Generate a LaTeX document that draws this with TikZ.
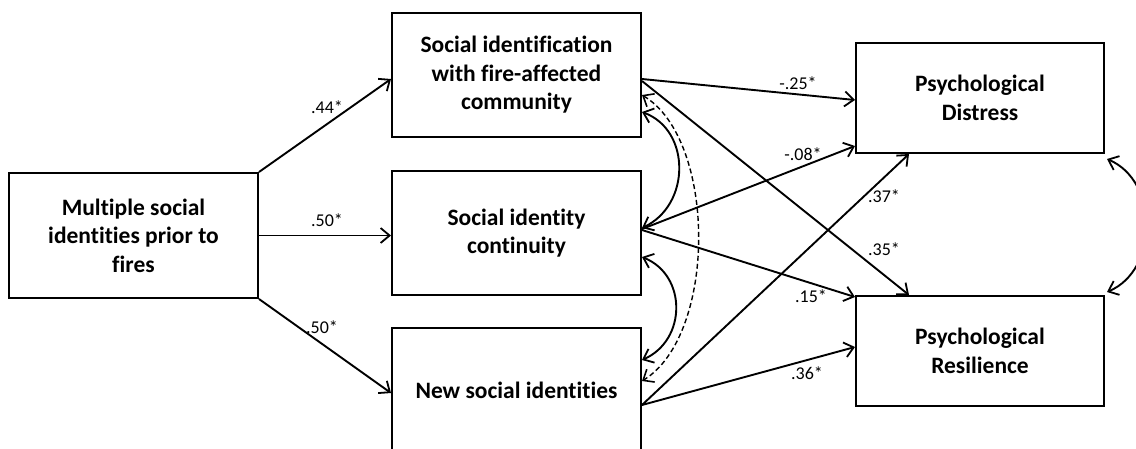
\documentclass[tikz,border=0pt]{standalone}
\usepackage{fontspec}
\setmainfont{Carlito}[Ligatures=NoCommon]
\usetikzlibrary{arrows.meta,calc}
\begin{document}
\begin{tikzpicture}[x=1pt,y=-1pt,
  varbox/.style={draw,line width=2pt,inner sep=0pt,align=center,
    font=\bfseries\fontsize{23.5}{28.5}\selectfont},
  coef/.style={font=\fontsize{18}{21}\selectfont,inner sep=0pt},
  path/.style={line width=1.9pt,-{Straight Barb[length=9pt,width=15pt,line width=1.8pt]}},
  corr/.style={line width=1.9pt,{Straight Barb[length=9pt,width=15pt,line width=1.8pt]}-{Straight Barb[length=9pt,width=15pt,line width=1.8pt]}},
  dcorr/.style={line width=1.4pt,dash pattern=on 5pt off 3pt,{Straight Barb[length=9pt,width=15pt,line width=1.6pt]}-{Straight Barb[length=9pt,width=15pt,line width=1.6pt]}}]
\useasboundingbox (0,0) rectangle (1136,448);

% variables
\node[varbox,minimum width=249pt,minimum height=125pt] (L) at (133.5,235.5)
  {Multiple social\\identities prior to\\fires};
\node[varbox,minimum width=249pt,minimum height=124pt] (A) at (516.5,75)
  {Social identification\\with fire-affected\\community};
\node[varbox,minimum width=249pt,minimum height=124pt] (B) at (516.5,233)
  {Social identity\\continuity};
\node[varbox,minimum width=249pt,minimum height=124pt] (C) at (516.5,390)
  {New social identities};
\node[varbox,minimum width=248pt,minimum height=110pt] (D) at (980,98)
  {Psychological\\Distress};
\node[varbox,minimum width=248pt,minimum height=110pt] (E) at (980,351)
  {Psychological\\Resilience};

% paths from the predictor
\draw[path] (L.north east) -- ([yshift=-4pt]A.west);
\draw[path] (L.east) -- (L.east -| B.west);
\draw[path] (L.south east) -- ([yshift=-3pt]C.west);

% paths to the outcomes
\draw[path] ([yshift=-4pt]A.east) -- ([yshift=-2pt]D.west);
\draw[path] ([yshift=-6pt]A.east) -- ([xshift=-71pt]E.north);
\draw[path] ([yshift=4pt]B.east) -- ([yshift=-48pt]D.west);
\draw[path] ([yshift=3pt]B.east) -- ([yshift=-2pt]E.north west);
\draw[path] ([yshift=-15pt]C.east) -- ([xshift=-71pt]D.south);
\draw[path] ([yshift=-15pt]C.east) -- ([yshift=4pt]E.west);

% correlations
\draw[corr] ([yshift=-37pt]A.east) .. controls +(49,18) and +(49,-23) .. ([yshift=5pt]B.east);
\draw[corr] ([yshift=-24pt]B.east) .. controls +(45,18) and +(45,-20) .. ([yshift=30pt]C.east);
\draw[dcorr] ([yshift=-20pt]A.east) .. controls +(75,45) and +(75,-46) .. ([yshift=9pt]C.east);
\draw[corr] ([shift={(2pt,-5pt)}]D.south east) .. controls +(52,22) and +(52,-22) .. ([shift={(2pt,3pt)}]E.north east);

% coefficients
\node[coef] (c1) at (327,107) {.44*};
\node[coef] (c2) at (327,220) {.50*};
\node[coef] (c3) at (322,327) {.50*};
\node[coef] (c4) at (798,83) {-.25*};
\node[coef] (c5) at (803,154) {-.08*};
\node[coef] (c6) at (884,196) {.37*};
\node[coef] (c7) at (884,249) {.35*};
\node[coef] (c8) at (811,296) {.15*};
\node[coef] (c9) at (807,373) {.36*};
\end{tikzpicture}
\end{document}
